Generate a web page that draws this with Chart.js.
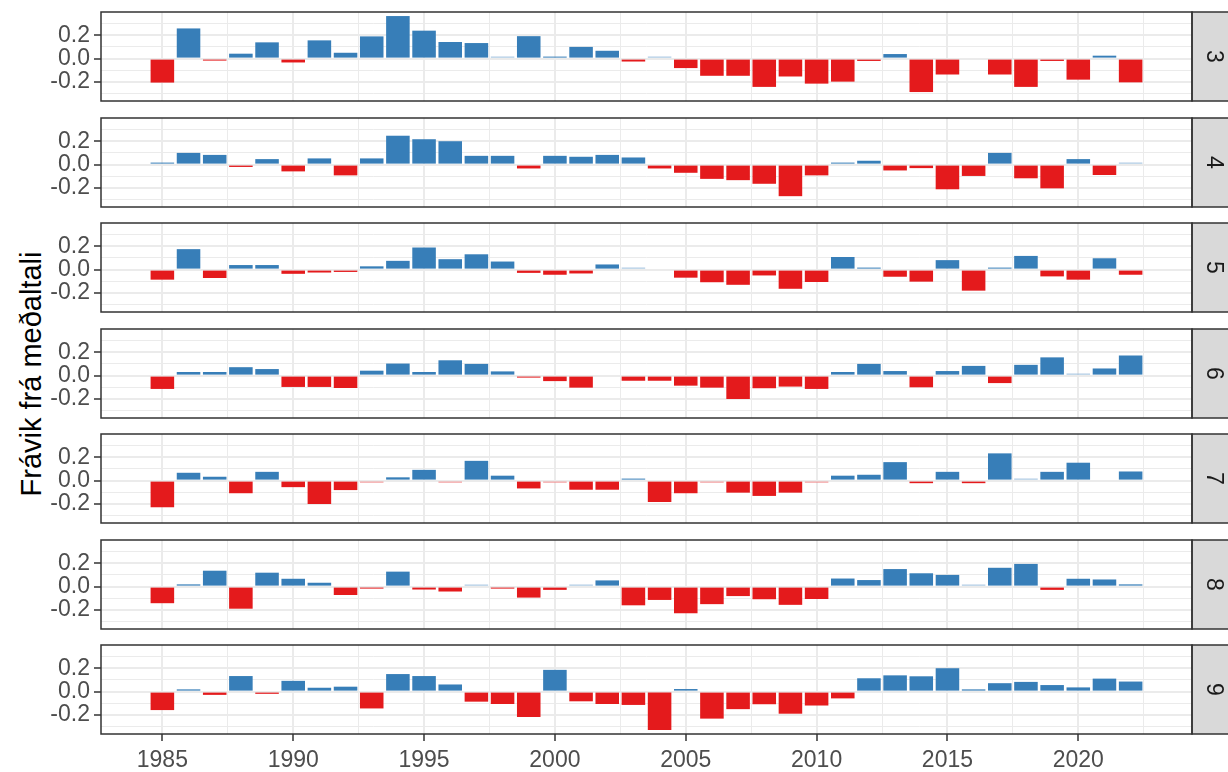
<!DOCTYPE html>
<html>
<head>
<meta charset="utf-8">
<script src="https://cdn.jsdelivr.net/npm/chart.js"></script>
<style>
  body { margin: 0; background: #fff; width: 1228px; height: 772px; overflow: hidden; position: relative;
         font-family: "Liberation Sans", Arial, sans-serif; }
  canvas { position: absolute; left: 0; }
  #ytitle { position: absolute; left: 31px; top: 374px; transform: translate(-50%, -50%) rotate(-90deg);
            font-size: 29px; white-space: nowrap; color: #000; }
</style>
</head>
<body>
<div id="ytitle">Frávik frá meðaltali</div>
<script>
// years on the x axis
const years = [1985, 1986, 1987, 1988, 1989, 1990, 1991, 1992, 1993, 1994,
               1995, 1996, 1997, 1998, 1999, 2000, 2001, 2002, 2003, 2004,
               2005, 2006, 2007, 2008, 2009, 2010, 2011, 2012, 2013, 2014,
               2015, 2016, 2017, 2018, 2019, 2020, 2021, 2022];

// facet labels (months)
const months = ['3', '4', '5', '6', '7', '8', '9'];

// deviation from mean, one array per month (null = no bar)
const m3 = [-0.205, 0.258, -0.015, 0.042, 0.139, -0.033, 0.156, 0.05, 0.19, 0.364,
            0.239, 0.142, 0.133, 0.008, 0.192, 0.017, 0.10, 0.067, -0.025, 0.005,
            -0.081, -0.147, -0.147, -0.242, -0.153, -0.214, -0.197, -0.02, 0.039, -0.286,
            -0.136, null, -0.136, -0.242, -0.02, -0.18, 0.025, -0.203];
const m4 = [0.017, 0.10, 0.083, -0.02, 0.047, -0.058, 0.053, -0.092, 0.053, 0.247,
            0.217, 0.20, 0.075, 0.075, -0.033, 0.075, 0.067, 0.083, 0.061, -0.033,
            -0.07, -0.122, -0.133, -0.164, -0.27, -0.092, 0.017, 0.033, -0.05, -0.03,
            -0.211, -0.097, 0.10, -0.117, -0.203, 0.047, -0.089, 0.008];
const m5 = [-0.086, 0.175, -0.072, 0.039, 0.039, -0.036, -0.025, -0.02, 0.028, 0.075,
            0.189, 0.089, 0.131, 0.069, -0.028, -0.044, -0.033, 0.044, 0.008, null,
            -0.069, -0.108, -0.13, -0.05, -0.164, -0.106, 0.108, 0.017, -0.061, -0.103,
            0.081, -0.18, 0.017, 0.117, -0.058, -0.086, 0.097, -0.044];
const m6 = [-0.114, 0.031, 0.031, 0.072, 0.056, -0.097, -0.097, -0.106, 0.042, 0.103,
            0.031, 0.131, 0.10, 0.036, -0.017, -0.047, -0.103, null, -0.044, -0.044,
            -0.086, -0.103, -0.20, -0.108, -0.094, -0.114, 0.031, 0.10, 0.039, -0.10,
            0.039, 0.083, -0.064, 0.092, 0.156, 0.008, 0.061, 0.172];
const m7 = [-0.228, 0.067, 0.033, -0.108, 0.075, -0.056, -0.20, -0.081, -0.01, 0.028,
            0.092, -0.01, 0.169, 0.042, -0.067, -0.005, -0.078, -0.078, 0.014, -0.183,
            -0.108, -0.01, -0.103, -0.131, -0.103, -0.008, 0.042, 0.05, 0.158, -0.022,
            0.075, -0.022, 0.233, 0.003, 0.075, 0.153, null, 0.078];
const m8 = [-0.142, 0.019, 0.136, -0.189, 0.119, 0.067, 0.033, -0.072, -0.014, 0.128,
            -0.025, -0.042, 0.008, -0.014, -0.094, -0.028, 0.003, 0.053, -0.16, -0.114,
            -0.228, -0.15, -0.081, -0.108, -0.156, -0.106, 0.069, 0.056, 0.15, 0.114,
            0.10, 0.006, 0.161, 0.194, -0.028, 0.067, 0.061, 0.019];
const m9 = [-0.158, 0.019, -0.028, 0.133, -0.019, 0.092, 0.033, 0.042, -0.144, 0.15,
            0.133, 0.061, -0.086, -0.106, -0.217, 0.186, -0.083, -0.106, -0.114, -0.328,
            0.022, -0.231, -0.15, -0.108, -0.189, -0.119, -0.058, 0.114, 0.139, 0.131,
            0.20, 0.019, 0.072, 0.083, 0.056, 0.036, 0.111, 0.086];
const series = [m3, m4, m5, m6, m7, m8, m9];

// tick labels
const xTickLabels = [1985, 1990, 1995, 2000, 2005, 2010, 2015, 2020];
const yTickLabels = [-0.2, 0, 0.2];

const red = '#E41A1C';
const blue = '#377EB8';
const lightRed = '#F08A8B';
const lightBlue = '#9BBEDD';
const gridCol = '#EBEBEB';

// ggplot style limits: bar width 0.9 plus 5% expansion, shared by all panels
const xLo = years[0] - 0.45, xHi = years[years.length - 1] + 0.45;
const xPad = (xHi - xLo) * 0.05;
let allVals = [];
series.forEach(s => s.forEach(v => { if (v !== null) allVals.push(v); }));
const yLo = Math.min(...allVals), yHi = Math.max(...allVals);
const yPad = (yHi - yLo) * 0.05;

function withMinor(labels, half) {
    let out = [];
    labels.forEach(v => {
        out.push(Math.round((v - half) * 100) / 100, v, Math.round((v + half) * 100) / 100);
    });
    return [...new Set(out)].sort((a, b) => a - b);
}
const xTicks = withMinor(xTickLabels, 2.5).filter(v => v >= xLo - xPad && v <= xHi + xPad);
const yTicks = withMinor(yTickLabels, 0.1);

// bar colour by sign, very small bars come out pale like the outlined originals
function barColor(c) {
    if (!c.raw || c.raw.y === null) return blue;
    const v = c.raw.y;
    if (Math.abs(v) < 0.012) return v < 0 ? lightRed : lightBlue;
    return v < 0 ? red : blue;
}

// frame + strip on the right of each panel
const panelFrame = {
    id: 'panelFrame',
    afterDraw(chart, args, opts) {
        const ctx = chart.ctx;
        const a = chart.chartArea;
        ctx.save();
        ctx.fillStyle = '#D9D9D9';
        ctx.fillRect(a.right, a.top, 50, a.bottom - a.top);
        ctx.lineWidth = 1.5;
        ctx.strokeStyle = '#333333';
        ctx.strokeRect(a.right, a.top, 50, a.bottom - a.top);
        ctx.strokeRect(a.left, a.top, a.right - a.left, a.bottom - a.top);
        ctx.translate(a.right + 22, (a.top + a.bottom) / 2);
        ctx.rotate(Math.PI / 2);
        ctx.fillStyle = '#1A1A1A';
        ctx.font = '23px "Liberation Sans", Arial, sans-serif';
        ctx.textAlign = 'center';
        ctx.textBaseline = 'middle';
        ctx.fillText(opts.label, 0, 1);
        ctx.restore();
    }
};

const panelTops = [12, 118, 223, 329, 434, 540, 645];
const panelH = 89;
const padTop = 4;
const axisH = 40;

months.forEach((m, i) => {
    const last = i === months.length - 1;
    const canvas = document.createElement('canvas');
    const h = padTop + panelH + (last ? axisH : padTop);
    canvas.width = 1228;
    canvas.height = h;
    canvas.style.top = (panelTops[i] - padTop) + 'px';
    document.body.appendChild(canvas);

    new Chart(canvas.getContext('2d'), {
        type: 'bar',
        data: {
            datasets: [{
                data: years.map((yr, k) => ({ x: yr, y: series[i][k] })),
                backgroundColor: barColor,
                borderWidth: 0,
                minBarLength: 2,
                barPercentage: 0.9,
                categoryPercentage: 1.0
            }]
        },
        options: {
            responsive: false,
            animation: false,
            devicePixelRatio: 1,
            layout: { padding: { top: padTop, bottom: last ? 0 : padTop, left: 0, right: 36 } },
            plugins: {
                legend: { display: false },
                tooltip: { enabled: false },
                panelFrame: { label: m }
            },
            scales: {
                x: {
                    type: 'linear',
                    offset: false,
                    min: xLo - xPad,
                    max: xHi + xPad,
                    afterBuildTicks: s => { s.ticks = xTicks.map(v => ({ value: v })); },
                    afterFit: s => {
                        s.height = last ? axisH : 0;
                        s.paddingLeft = 0;
                        s.paddingRight = 0;
                    },
                    border: { display: false },
                    grid: {
                        offset: false,
                        color: gridCol,
                        lineWidth: c => (c.tick && xTickLabels.includes(c.tick.value)) ? 2 : 1,
                        drawTicks: last,
                        tickLength: 7,
                        tickWidth: 1.5,
                        tickColor: c => (c.tick && xTickLabels.includes(c.tick.value)) ? '#333333' : 'rgba(0,0,0,0)'
                    },
                    ticks: {
                        display: last,
                        autoSkip: false,
                        maxRotation: 0,
                        padding: 6,
                        color: '#4D4D4D',
                        font: { family: '"Liberation Sans", Arial, sans-serif', size: 23 },
                        callback: v => xTickLabels.includes(v) ? String(v) : ''
                    }
                },
                y: {
                    min: yLo - yPad,
                    max: yHi + yPad,
                    afterBuildTicks: s => { s.ticks = yTicks.map(v => ({ value: v })); },
                    afterFit: s => {
                        s.width = 101;
                        s.paddingTop = 0;
                        s.paddingBottom = 0;
                    },
                    border: { display: false },
                    grid: {
                        color: gridCol,
                        lineWidth: c => (c.tick && yTickLabels.includes(c.tick.value)) ? 2 : 1,
                        tickLength: 7,
                        tickWidth: 1.5,
                        tickColor: c => (c.tick && yTickLabels.includes(c.tick.value)) ? '#333333' : 'rgba(0,0,0,0)'
                    },
                    ticks: {
                        autoSkip: false,
                        padding: 4,
                        color: '#4D4D4D',
                        font: { family: '"Liberation Sans", Arial, sans-serif', size: 23 },
                        callback: v => yTickLabels.includes(v) ? v.toFixed(1) : ''
                    }
                }
            }
        },
        plugins: [panelFrame]
    });
});
</script>
</body>
</html>
